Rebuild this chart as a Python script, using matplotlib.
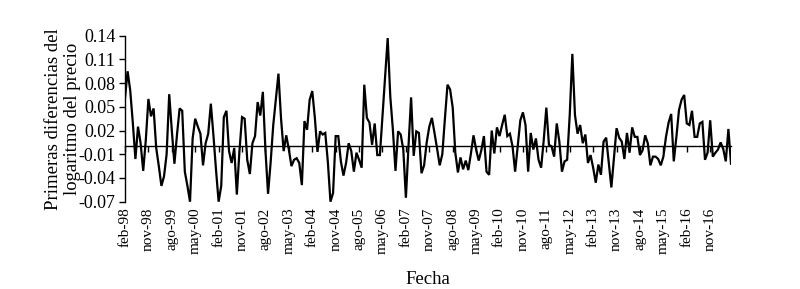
import matplotlib
matplotlib.use('Agg')
import matplotlib.pyplot as plt
import numpy as np

# First differences of log price, monthly from feb-98
valores = [
    0.061, 0.095, 0.071, 0.030, -0.016, 0.025, 0.004, -0.031, 0.008, 0.060,
    0.038, 0.048, -0.002, -0.025, -0.050, -0.038, -0.010, 0.066, 0.020, -0.022,
    0.015, 0.048, 0.045, -0.032, -0.050, -0.070, 0.010, 0.035, 0.025, 0.016,
    -0.024, 0.004, 0.016, 0.054, 0.014, -0.030, -0.070, -0.050, 0.037, 0.045,
    -0.006, -0.021, -0.002, -0.061, -0.006, 0.037, 0.035, -0.017, -0.035, 0.004,
    0.013, 0.056, 0.039, 0.069, -0.005, -0.060, -0.020, 0.027, 0.060, 0.092,
    0.035, -0.006, 0.014, -0.004, -0.025, -0.017, -0.015, -0.021, -0.049, 0.032,
    0.021, 0.059, 0.070, 0.036, -0.007, 0.019, 0.015, 0.017, -0.020, -0.070,
    -0.059, 0.013, 0.013, -0.019, -0.037, -0.021, 0.004, -0.006, -0.032, -0.008,
    -0.017, -0.027, 0.078, 0.036, 0.030, 0.002, 0.029, -0.011, -0.011, 0.039,
    0.088, 0.137, 0.063, 0.021, -0.031, 0.019, 0.015, -0.004, -0.065, 0.000,
    0.062, -0.012, 0.019, 0.017, -0.034, -0.024, 0.005, 0.025, 0.036, 0.017,
    -0.003, -0.024, -0.010, 0.035, 0.078, 0.072, 0.049, -0.008, -0.033, -0.014,
    -0.029, -0.018, -0.030, -0.009, 0.014, -0.004, -0.018, -0.005, 0.013, -0.032,
    -0.036, 0.020, -0.009, 0.024, 0.013, 0.027, 0.040, 0.013, 0.016, 0.000,
    -0.032, 0.000, 0.033, 0.043, 0.027, -0.032, 0.017, -0.004, 0.010, -0.017,
    -0.027, 0.008, 0.049, 0.002, 0.000, -0.013, 0.029, 0.006, -0.032, -0.019,
    -0.017, 0.040, 0.117, 0.040, 0.016, 0.027, 0.004, 0.015, -0.021, -0.011,
    -0.027, -0.046, -0.023, -0.036, 0.006, 0.011, -0.021, -0.052, -0.015, 0.023,
    0.011, 0.006, -0.016, 0.017, -0.008, 0.024, 0.012, 0.012, -0.011, -0.005,
    0.014, 0.004, -0.024, -0.013, -0.013, -0.016, -0.024, -0.013, 0.012, 0.030,
    0.041, -0.019, 0.012, 0.046, 0.059, 0.065, 0.029, 0.027, 0.045, 0.012,
    0.012, 0.029, 0.031, -0.017, -0.008, 0.033, -0.013, -0.008, -0.004, 0.005,
    -0.003, -0.019, 0.022, -0.022,
]

etiquetas = ['feb-98', 'nov-98', 'ago-99', 'may-00', 'feb-01', 'nov-01', 'ago-02',
             'may-03', 'feb-04', 'nov-04', 'ago-05', 'may-06', 'feb-07', 'nov-07',
             'ago-08', 'may-09', 'feb-10', 'nov-10', 'ago-11', 'may-12', 'feb-13',
             'nov-13', 'ago-14', 'may-15', 'feb-16', 'nov-16']
intervalo_etiquetas = 9
y_ticks = [-0.07, -0.04, -0.01, 0.02, 0.05, 0.08, 0.11, 0.14]

plt.rcParams['font.family'] = ['Liberation Serif', 'DejaVu Serif']
plt.rcParams['axes.unicode_minus'] = False

fig = plt.figure(figsize=(8, 2.89), dpi=100)
ax = fig.add_axes([125 / 800, (289 - 201.7) / 289, 606 / 800, 166 / 289])

x = np.arange(len(valores))
ax.plot(x, valores, color='black', lw=1.6, solid_joinstyle='miter')

ax.set_xlim(0, len(valores) - 1)
ax.set_ylim(y_ticks[0], y_ticks[-1])
ax.set_yticks(y_ticks)
ax.set_yticklabels([f'{v:.2f}' for v in y_ticks])
ax.tick_params(axis='y', direction='out', length=4, width=1, labelsize=13, pad=3)

pos = np.arange(len(etiquetas)) * intervalo_etiquetas
ax.set_xticks(pos)
ax.set_xticklabels(etiquetas, rotation=90)
ax.tick_params(axis='x', length=0, labelsize=11, pad=4)

for s in ['top', 'right', 'bottom']:
    ax.spines[s].set_visible(False)
ax.spines['left'].set_linewidth(1)

# axis line crossing at zero with its own tick marks
cero = (0 - y_ticks[0]) / (y_ticks[-1] - y_ticks[0])
sec = ax.secondary_xaxis(cero)
sec.set_xticks(pos)
sec.set_xticklabels([])
sec.tick_params(axis='x', direction='out', length=4, width=1)
sec.spines['bottom'].set_linewidth(1)

ax.set_ylabel('Primeras diferencias del\nlogaritmo del precio', fontsize=13.5)
ax.yaxis.set_label_coords(-0.072, 0.5)
ax.set_xlabel('Fecha', fontsize=13.5)
ax.xaxis.set_label_coords(0.5, -0.42)

fig.savefig('out.png', dpi=100)
